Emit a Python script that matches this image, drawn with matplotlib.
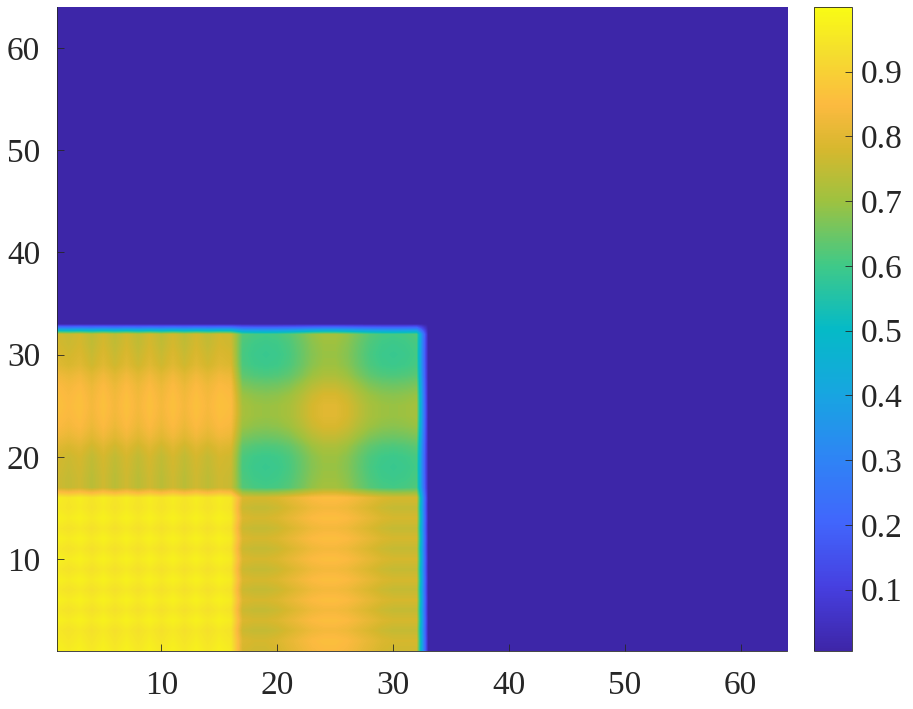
import matplotlib
matplotlib.use('Agg')
import matplotlib.pyplot as plt
from matplotlib.colors import LinearSegmentedColormap
import numpy as np

plt.rcParams['font.family'] = ['Liberation Serif', 'DejaVu Serif']

# grid: 64 x 64 points, the non-zero block covers points 1..32 in x and y
n_grid = 64
background = 0.005

# bottom-left quadrant (x 1..16, y 1..16): bright with a fine grid pattern
bl_base = 0.975
bl_col = [0.0, -0.015, 0.0, -0.02, 0.0, -0.02, 0.0, -0.02,
          0.0, -0.02, 0.0, -0.02, 0.0, -0.02, 0.0, -0.015]
bl_row = [0.0, -0.01, -0.02, 0.0, -0.02, 0.0, -0.02, 0.0,
          -0.02, 0.0, -0.02, 0.0, -0.02, 0.0, -0.015, -0.01]

# top-left quadrant (x 1..16, y 17..32): vertical ripples, bright middle band
tl_col = [0.0, -0.015, 0.0, -0.03, 0.0, -0.03, 0.0, -0.03,
          0.0, -0.03, 0.0, -0.03, 0.0, -0.025, 0.0, -0.01]
tl_row = [0.77, 0.77, 0.775, 0.78, 0.80, 0.83, 0.85, 0.86,
          0.865, 0.86, 0.85, 0.83, 0.80, 0.79, 0.78, 0.775]

# top-right quadrant (x 17..32, y 17..32): green corners, orange centre
tr_base = 0.70
tr_col = [-0.035, -0.05, -0.055, -0.05, -0.035, -0.005, 0.03, 0.05,
          0.05, 0.03, -0.005, -0.035, -0.05, -0.055, -0.05, -0.04]
tr_row = [-0.04, -0.05, -0.055, -0.05, -0.03, 0.005, 0.035, 0.05,
          0.05, 0.035, 0.005, -0.03, -0.05, -0.055, -0.05, -0.04]

# bottom-right quadrant (x 17..32, y 1..16): horizontal ripples, bright centre
br_base = 0.80
br_col = [-0.02, -0.03, -0.03, -0.02, 0.0, 0.02, 0.04, 0.05,
          0.05, 0.04, 0.02, 0.0, -0.02, -0.03, -0.03, -0.03]
br_row = [0.0, 0.01, -0.015, 0.01, -0.015, 0.01, -0.015, 0.01,
          -0.015, 0.01, -0.015, 0.01, -0.015, 0.01, -0.015, 0.01]

cbar_ticks = [0.1, 0.2, 0.3, 0.4, 0.5, 0.6, 0.7, 0.8, 0.9]
axis_ticks = [10, 20, 30, 40, 50, 60]

# parula-like colour stops
parula_pos = [0.0, 0.10, 0.20, 0.30, 0.40, 0.50, 0.60, 0.70, 0.78, 0.85, 0.93, 1.0]
parula_rgb = [(0.242, 0.150, 0.660), (0.275, 0.250, 0.880), (0.255, 0.400, 0.990),
              (0.180, 0.520, 0.960), (0.090, 0.650, 0.880), (0.020, 0.730, 0.780),
              (0.250, 0.790, 0.530), (0.620, 0.760, 0.250), (0.840, 0.720, 0.180),
              (0.990, 0.730, 0.250), (0.960, 0.870, 0.180), (0.976, 0.983, 0.080)]
parula = LinearSegmentedColormap.from_list('parula', list(zip(parula_pos, parula_rgb)))

# assemble matrix Z[y, x]
Z = np.full((n_grid, n_grid), background)
Z[0:16, 0:16] = bl_base + np.add.outer(bl_row, bl_col)
Z[16:32, 0:16] = np.add.outer(tl_row, tl_col)
Z[16:32, 16:32] = tr_base + np.add.outer(tr_row, tr_col)
Z[0:16, 16:32] = br_base + np.add.outer(br_row, br_col)

fig = plt.figure(figsize=(9.13, 7.09), dpi=100)
ax = fig.add_axes([57 / 913, 58 / 709, 730 / 913, 644 / 709])
img = ax.imshow(Z, origin='lower', extent=(0.5, n_grid + 0.5, 0.5, n_grid + 0.5),
                cmap=parula, vmin=0.005, vmax=1.0, aspect='auto',
                interpolation='bilinear', interpolation_stage='data')
ax.set_xlim(1, 64)
ax.set_ylim(1, 64)
ax.set_xticks(axis_ticks)
ax.set_yticks(axis_ticks)
ax.tick_params(direction='in', length=5, width=0.6, colors='#262626', labelsize=24)
ax.tick_params(axis='x', pad=14)
ax.tick_params(axis='y', pad=12)
for s in ['top', 'right']:
    ax.spines[s].set_visible(False)
for s in ['left', 'bottom']:
    ax.spines[s].set_color('#262626')
    ax.spines[s].set_linewidth(0.6)

cax = fig.add_axes([814 / 913, 58 / 709, 38 / 913, 644 / 709])
cb = fig.colorbar(img, cax=cax, ticks=cbar_ticks)
cb.ax.tick_params(direction='in', length=5, width=0.6, colors='#262626', labelsize=24, pad=6)
cb.outline.set_edgecolor('#262626')
cb.outline.set_linewidth(0.6)

fig.savefig('out.png', dpi=100, facecolor='white')
